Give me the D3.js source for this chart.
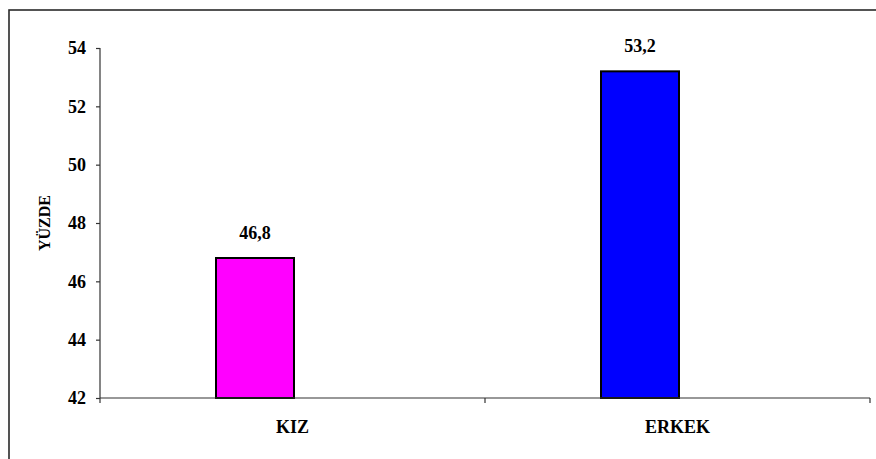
<!DOCTYPE html>
<html>
<head>
<meta charset="utf-8">
<script src="https://cdn.jsdelivr.net/npm/d3@7"></script>
<style>
  html, body { margin: 0; padding: 0; background: #fff; }
  svg { display: block; }
  text { font-family: "Liberation Serif", "Times New Roman", serif; font-weight: bold; fill: #000; }
</style>
</head>
<body>
<svg id="chart" width="876" height="459"></svg>
<script>
// Share of students by gender (percent)
const categories = ["KIZ", "ERKEK"];
const series = ["YÜZDE", "_empty"];
const values = [46.8, 53.2];
const valueLabels = ["46,8", "53,2"];
const yTicks = [42, 44, 46, 48, 50, 52, 54];
const yTitle = "YÜZDE";

const svg = d3.select("#chart");

// outer chart frame
svg.append("rect")
  .attr("x", 9).attr("y", 10)
  .attr("width", 900).attr("height", 480)
  .attr("fill", "#fff")
  .attr("stroke", "#2a2a2a")
  .attr("stroke-width", 1.6);

const plot = { left: 100, right: 870, top: 48, bottom: 398 };

const x = d3.scaleBand().domain(categories).range([plot.left, plot.right]).padding(0);
const inner = d3.scaleBand().domain(series)
  .range([x.bandwidth() / 2 - 75, x.bandwidth() / 2 + 75]).padding(0);
const barW = inner.bandwidth() * 1.04;

const y = d3.scaleLinear().domain([42, 54]).range([plot.bottom, plot.top]);

// y axis
const yAxis = svg.append("g")
  .attr("transform", `translate(${plot.left},0)`)
  .call(d3.axisLeft(y).tickValues(yTicks).tickSize(4).tickPadding(10).tickFormat(d3.format("d")));
yAxis.select(".domain").attr("stroke", "#333").attr("stroke-width", 1.2)
  .attr("d", `M0,${plot.top}V${plot.bottom}`);
yAxis.selectAll(".tick line").attr("stroke", "#333").attr("stroke-width", 1.2);
yAxis.selectAll(".tick text")
  .style("font-family", '"Liberation Serif", "Times New Roman", serif')
  .style("font-weight", "bold")
  .style("font-size", "18px")
  .attr("fill", "#000");

// y axis title
svg.append("text")
  .attr("transform", `translate(50,${(plot.top + plot.bottom) / 2}) rotate(-90)`)
  .attr("text-anchor", "middle")
  .style("font-size", "16px")
  .text(yTitle);

// bars (first series only; the second series is empty)
const data = categories.map((c, i) => ({ cat: c, key: series[0], value: values[i], label: valueLabels[i] }));

svg.append("g").selectAll("rect")
  .data(data)
  .join("rect")
  .attr("x", d => x(d.cat) + inner(d.key) + inner.bandwidth() / 2 - barW / 2)
  .attr("y", d => y(d.value))
  .attr("width", barW)
  .attr("height", d => y(42) - y(d.value))
  .attr("fill", (d, i) => i === 0 ? "#ff00ff" : "#0000ff")
  .attr("stroke", "#000")
  .attr("stroke-width", 2);

// value labels
svg.append("g").selectAll("text")
  .data(data)
  .join("text")
  .attr("x", d => x(d.cat) + inner(d.key) + inner.bandwidth() / 2)
  .attr("y", d => y(d.value) - 19)
  .attr("text-anchor", "middle")
  .style("font-size", "18px")
  .text(d => d.label);

// x axis line with category boundary ticks
const xg = svg.append("g");
xg.append("line")
  .attr("x1", plot.left).attr("x2", plot.right)
  .attr("y1", plot.bottom).attr("y2", plot.bottom)
  .attr("stroke", "#333").attr("stroke-width", 1.2);
const bounds = categories.map(c => x(c)).concat([x.range()[1]]);
xg.selectAll("line.tick")
  .data(bounds)
  .join("line")
  .attr("class", "tick")
  .attr("x1", d => d).attr("x2", d => d)
  .attr("y1", plot.bottom).attr("y2", plot.bottom + 5)
  .attr("stroke", "#333").attr("stroke-width", 1.2);

// category labels
xg.selectAll("text")
  .data(categories)
  .join("text")
  .attr("x", d => x(d) + x.bandwidth() / 2)
  .attr("y", 433)
  .attr("text-anchor", "middle")
  .style("font-size", "18px")
  .text(d => d);
</script>
</body>
</html>
